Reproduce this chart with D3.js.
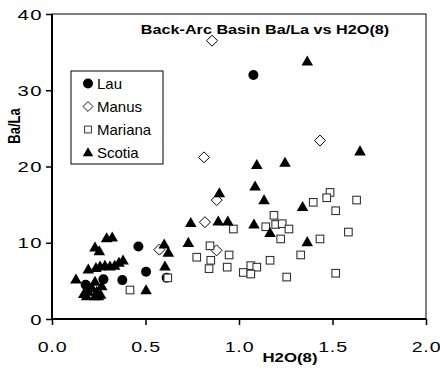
<!DOCTYPE html>
<html>
<head>
<meta charset="utf-8">
<script src="https://cdn.jsdelivr.net/npm/d3@7.9.0/dist/d3.min.js"></script>
<style>
  body { margin: 0; background: #fff; }
  text { font-family: "Liberation Sans", Arial, Helvetica, sans-serif; fill: #000; }
</style>
</head>
<body>
<svg id="chart" width="440" height="370"></svg>
<script>
// [H2O(8), Ba/La]
const lau = [
  [1.077, 32.0], [0.462, 9.5], [0.503, 6.2], [0.613, 5.4], [0.376, 5.1],
  [0.275, 5.2], [0.18, 4.5], [0.2, 4.1]
];
const manus = [
  [0.856, 36.5], [0.813, 21.2], [1.433, 23.4], [0.881, 15.6], [0.818, 12.7],
  [0.574, 9.1], [0.88, 9.0]
];
const mariana = [
  [1.487, 16.6], [1.469, 15.9], [1.397, 15.3], [1.629, 15.6], [1.517, 14.2],
  [1.187, 13.6], [1.196, 12.4], [1.231, 12.5], [1.267, 11.8], [1.143, 12.1],
  [0.97, 11.8], [1.223, 10.5], [1.433, 10.5], [1.585, 11.4], [0.947, 8.4],
  [1.33, 8.4], [1.166, 7.7], [0.937, 6.8], [1.063, 7.0], [1.095, 6.8],
  [1.023, 6.1], [1.063, 5.9], [1.255, 5.5], [1.517, 6.0], [0.845, 9.6],
  [0.774, 8.1], [0.849, 7.7], [0.84, 6.6], [0.619, 5.4], [0.417, 3.8]
];
const scotia = [
  [1.365, 33.8], [1.647, 22.0], [1.095, 20.2], [1.246, 20.5], [1.086, 17.4],
  [1.134, 15.6], [0.895, 16.5], [1.34, 14.7], [1.08, 12.4], [1.166, 11.3],
  [1.365, 10.1], [0.742, 12.6], [0.889, 12.8], [0.94, 12.8], [0.729, 10.0],
  [0.6, 9.8], [0.622, 8.7], [0.604, 6.9], [0.503, 3.8],
  [0.292, 10.6], [0.322, 10.7], [0.23, 9.4], [0.253, 8.9],
  [0.194, 6.5], [0.235, 6.7], [0.257, 6.9], [0.283, 7.0], [0.31, 6.9],
  [0.335, 7.0], [0.358, 7.4], [0.38, 7.7], [0.128, 5.2],
  [0.194, 3.6], [0.239, 3.6], [0.185, 3.0], [0.23, 3.0], [0.248, 3.0],
  [0.212, 4.1], [0.266, 4.3], [0.23, 4.9], [0.17, 3.3], [0.26, 3.2]
];

const xTicks = [0, 0.5, 1.0, 1.5, 2.0];
const yTicks = [0, 10, 20, 30, 40];
const seriesNames = ['Lau', 'Manus', 'Mariana', 'Scotia'];

const svg = d3.select('#chart');
const plotL = 52, plotR = 426, plotT = 14, plotB = 319;

const x = d3.scaleLinear().domain([0, 2]).range([plotL, plotR]);
const y = d3.scaleLinear().domain([0, 40]).range([plotB, plotT]);

// plot frame: thin top/right, heavy left/bottom axes
svg.append('rect')
  .attr('x', plotL).attr('y', plotT)
  .attr('width', plotR - plotL).attr('height', plotB - plotT)
  .attr('fill', 'none').attr('stroke', '#000').attr('stroke-width', 1);

const xAxis = svg.append('g')
  .attr('transform', `translate(0,${plotB})`)
  .call(d3.axisBottom(x).tickValues(xTicks).tickSize(6).tickFormat(d3.format('.1f')));
const yAxis = svg.append('g')
  .attr('transform', `translate(${plotL},0)`)
  .call(d3.axisLeft(y).tickValues(yTicks).tickSize(6).tickFormat(d3.format('d')));

for (const ax of [xAxis, yAxis]) {
  ax.select('.domain').remove();
  ax.selectAll('.tick line').attr('stroke-width', 1.5);
  ax.selectAll('.tick text').remove();
}
svg.append('line').attr('x1', plotL).attr('x2', plotL).attr('y1', plotT).attr('y2', plotB + 1)
  .attr('stroke', '#000').attr('stroke-width', 2);
svg.append('line').attr('x1', plotL - 1).attr('x2', plotR).attr('y1', plotB).attr('y2', plotB)
  .attr('stroke', '#000').attr('stroke-width', 2);

// tick labels are drawn wide in the original, so stretch them horizontally
function wide(g, tx, ty, k) {
  return g.append('text')
    .attr('transform', `translate(${tx},${ty}) scale(${k},1)`);
}
xAxis.selectAll('.tick').each(function (d) {
  wide(d3.select(this), 0, 33, 1.4)
    .attr('text-anchor', 'middle')
    .attr('font-size', 14)
    .attr('letter-spacing', 0.6)
    .text(d3.format('.1f')(d));
});
yAxis.selectAll('.tick').each(function (d) {
  wide(d3.select(this), -9, 5, 1.45)
    .attr('text-anchor', 'end')
    .attr('font-size', 14)
    .attr('letter-spacing', 1)
    .text(d);
});

// titles
wide(svg, 265, 34, 1.35)
  .attr('text-anchor', 'middle').attr('font-size', 12).attr('font-weight', 'bold')
  .text('Back-Arc Basin Ba/La vs H2O(8)');
wide(svg, 290, 362, 1.4)
  .attr('text-anchor', 'middle').attr('font-size', 12).attr('font-weight', 'bold')
  .text('H2O(8)');
svg.append('text')
  .attr('transform', 'translate(20,126) rotate(-90) scale(1,1.3)')
  .attr('text-anchor', 'middle').attr('font-size', 13).attr('font-weight', 'bold')
  .text('Ba/La');

// markers
const diamond = 'M0,-5.5L5.5,0L0,5.5L-5.5,0Z';
const shapes = {
  Lau: g => g.append('circle').attr('r', 5).attr('fill', '#000'),
  Manus: g => g.append('path').attr('d', diamond).attr('fill', '#fff')
    .attr('stroke', '#000').attr('stroke-width', 1),
  Mariana: g => g.append('rect').attr('x', -3.8).attr('y', -3.8).attr('width', 7.6).attr('height', 7.6)
    .attr('fill', '#fff').attr('stroke', '#333').attr('stroke-width', 1.1),
  Scotia: g => g.append('path').attr('d', d3.symbol(d3.symbolTriangle, 58)()).attr('fill', '#000')
    .attr('transform', 'translate(0,0.8)')
};
const seriesData = { Lau: lau, Manus: manus, Mariana: mariana, Scotia: scotia };

for (const name of seriesNames) {
  svg.append('g').attr('class', name)
    .selectAll('g')
    .data(seriesData[name])
    .join('g')
    .attr('transform', d => `translate(${x(d[0])},${y(d[1])})`)
    .each(function () { shapes[name](d3.select(this)); });
}

// legend
const legend = svg.append('g').attr('transform', 'translate(71,71)');
legend.append('rect').attr('width', 92).attr('height', 93)
  .attr('fill', '#fff').attr('stroke', '#000').attr('stroke-width', 1);
const item = legend.selectAll('g.item')
  .data(seriesNames)
  .join('g')
  .attr('class', 'item')
  .attr('transform', (d, i) => `translate(17,${12.5 + i * 23})`);
item.each(function (d) {
  const g = d3.select(this).append('g');
  shapes[d](g);
  if (d !== 'Lau') g.attr('transform', 'scale(0.9)');
});
item.append('text').attr('x', 9).attr('y', 5.5)
  .attr('font-size', 15)
  .text(d => d);
</script>
</body>
</html>
